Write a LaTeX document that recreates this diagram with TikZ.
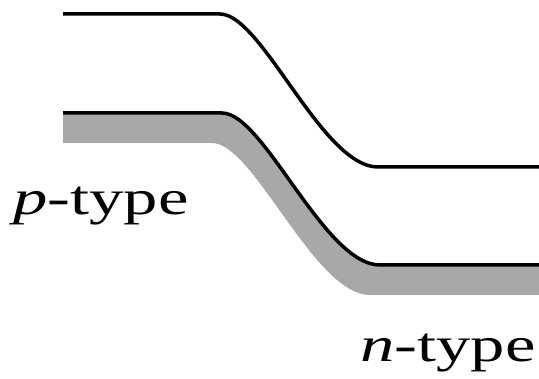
\documentclass[tikz,border=0pt]{standalone}
\usepackage{fontspec}
\setmainfont{Liberation Serif}
\definecolor{bandgray}{gray}{0.66}
\tikzset{
  band/.style={line width=3.5pt, black},
  label/.style={anchor=base west, inner sep=0pt, font=\fontsize{49}{49}\selectfont}
}
\begin{document}
\begin{tikzpicture}[x=1pt, y=-1pt]
  \useasboundingbox (0,0) rectangle (539,379);
  % shaded layer under the lower band edge
  \begin{scope}
    \clip (63,0) rectangle (539,379);
    \fill[bandgray] (53,113) -- (222,113)
      .. controls (264,113) and (324,265) .. (380,265) -- (545,265)
      -- (545,295) -- (370,295)
      .. controls (314,295) and (254,143) .. (212,143) -- (53,143) -- cycle;
  \end{scope}
  % upper band edge
  \draw[band] (63,14) -- (220,14)
    .. controls (262,14) and (322,167) .. (378,167) -- (539,167);
  % lower band edge
  \draw[band] (63,113) -- (222,113)
    .. controls (264,113) and (324,265) .. (380,265) -- (539,265);
  % labels
  \node[label] (ptype) at (13,215) {\scalebox{1.4}[1]{\textit{p}-type}};
  \node[label] (ntype) at (360,362) {\scalebox{1.4}[1]{\textit{n}-type}};
\end{tikzpicture}
\end{document}
